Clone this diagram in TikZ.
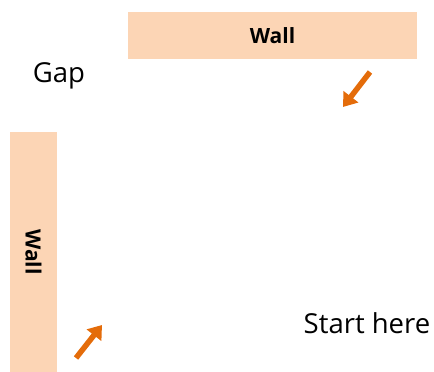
\documentclass[tikz,border=0pt]{standalone}
\usepackage{fontspec}
\setmainfont{Open Sans}
\usepackage{xcolor}
\usetikzlibrary{arrows.meta}
\definecolor{wall}{HTML}{FCD5B5}
\definecolor{orange}{HTML}{E46C0A}
\tikzset{
  wallbox/.style={fill=wall, inner sep=0pt, font=\fontsize{21}{25}\selectfont\bfseries},
  blockarrow/.style={draw=orange, line width=5.5pt, -{Triangle[width=18pt,length=13pt]}},
  lab/.style={anchor=base, inner sep=0pt, font=\fontsize{27.5}{32}\selectfont},
}
\begin{document}
\begin{tikzpicture}[x=1pt,y=1pt]
\useasboundingbox (0,0) rectangle (434,372);
\node[wallbox, minimum width=289pt, minimum height=47pt] (topwall) at (272.5,336.5) {Wall};
\node[wallbox, rotate=-90, minimum width=240pt, minimum height=47pt] (leftwall) at (33.5,120) {Wall};
\node[lab] (gap) at (59,289) {Gap};
\node[lab] (start) at (367,38) {Start here};
\coordinate (a1) at (370,300);
\coordinate (a2) at (343,265);
\coordinate (b1) at (76,14);
\coordinate (b2) at (102,47);
\draw[blockarrow] (a1) -- (a2);
\draw[blockarrow] (b1) -- (b2);
\end{tikzpicture}
\end{document}
